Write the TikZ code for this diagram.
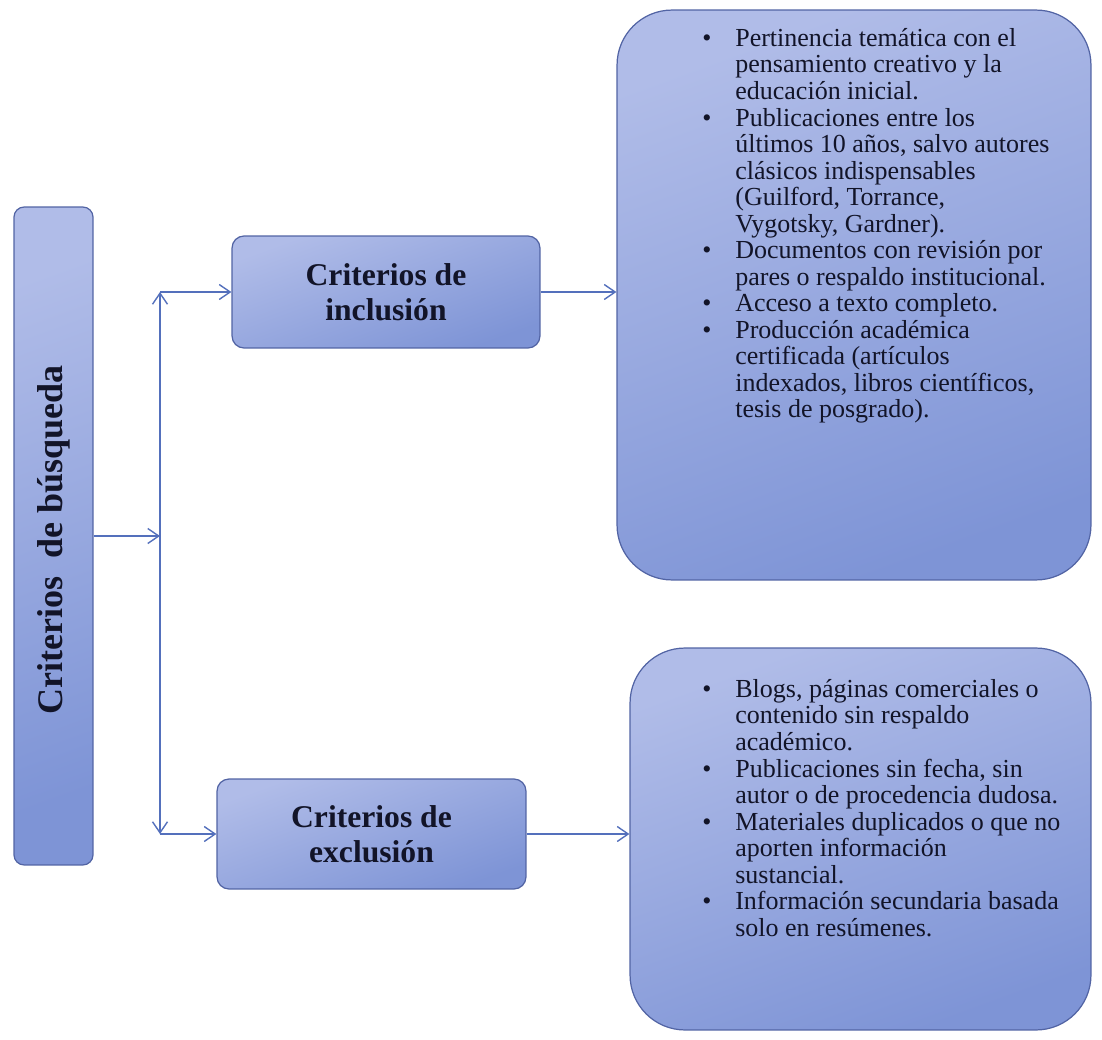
\documentclass[tikz,border=0pt]{standalone}
\usepackage{fontspec}
\setmainfont{Liberation Serif}
\usetikzlibrary{arrows.meta}
\definecolor{boxtop}{RGB}{176,188,232}
\definecolor{boxbot}{RGB}{126,148,214}
\definecolor{boxline}{RGB}{82,100,164}
\definecolor{arrowblue}{RGB}{84,112,188}
\definecolor{inkblue}{RGB}{18,20,40}
\newcommand{\itm}[1]{\makebox[0.66cm][l]{\textbullet}#1}
\newcommand{\cnt}[1]{\hspace*{0.66cm}#1}
\begin{document}
\begin{tikzpicture}[x=0.02cm, y=-0.02cm,
  box/.style={draw=boxline, line width=0.7pt, top color=boxtop, bottom color=boxbot,
    shading angle=20, text=inkblue},
  head/.style={font=\bfseries\fontsize{18}{20}\selectfont, align=center},
  listtext/.style={anchor=north west, inner sep=0pt, align=left, text=inkblue,
    font=\fontsize{14.8}{15.1}\selectfont},
  arr/.style={draw=arrowblue, line width=0.8pt, -{Straight Barb[length=0.22cm, width=0.3cm]}}]
  \useasboundingbox (0,0) rectangle (1102,1040);
  \node[box, rounded corners=0.2cm, minimum width=1.58cm, minimum height=13.16cm] (busq) at (53.5,536) {};
  \node[rotate=90, text=inkblue, font=\bfseries\fontsize{20.5}{22}\selectfont] (busqlabel) at (54,540) {Criterios\ \ de búsqueda};
  \node[box, head, rounded corners=0.24cm, minimum width=6.16cm, minimum height=2.24cm] (incl) at (386,292) {Criterios de\\inclusión};
  \node[box, head, rounded corners=0.24cm, minimum width=6.18cm, minimum height=2.2cm] (excl) at (371.5,834) {Criterios de\\exclusión};
  \node[box, rounded corners=1.1cm, minimum width=9.48cm, minimum height=11.4cm] (inclist) at (854,295) {};
  \node[box, rounded corners=1.1cm, minimum width=9.22cm, minimum height=7.64cm] (exclist) at (860.5,839) {};
  \node[listtext] (incitems) at (702,28) {%
    \itm{Pertinencia temática con el}\\
    \cnt{pensamiento creativo y la}\\
    \cnt{educación inicial.}\\
    \itm{Publicaciones entre los}\\
    \cnt{últimos 10 años, salvo autores}\\
    \cnt{clásicos indispensables}\\
    \cnt{(Guilford, Torrance,}\\
    \cnt{Vygotsky, Gardner).}\\
    \itm{Documentos con revisión por}\\
    \cnt{pares o respaldo institucional.}\\
    \itm{Acceso a texto completo.}\\
    \itm{Producción académica}\\
    \cnt{certificada (artículos}\\
    \cnt{indexados, libros científicos,}\\
    \cnt{tesis de posgrado).}};
  \node[listtext] (excitems) at (702,679) {%
    \itm{Blogs, páginas comerciales o}\\
    \cnt{contenido sin respaldo}\\
    \cnt{académico.}\\
    \itm{Publicaciones sin fecha, sin}\\
    \cnt{autor o de procedencia dudosa.}\\
    \itm{Materiales duplicados o que no}\\
    \cnt{aporten información}\\
    \cnt{sustancial.}\\
    \itm{Información secundaria basada}\\
    \cnt{solo en resúmenes.}};
  \coordinate (vx) at (160,0);
  \coordinate (top) at (incl.west -| vx);
  \coordinate (bot) at (excl.west -| vx);
  \draw [arr, {Straight Barb[length=0.22cm, width=0.3cm]}-{Straight Barb[length=0.22cm, width=0.3cm]}] (top) -- (bot);
  \draw [arr] (busq.east) -- (busq.east -| vx);
  \draw [arr] (top) -- (incl.west);
  \draw [arr] (bot) -- (excl.west);
  \draw [arr] (incl.east) -- (incl.east -| inclist.west);
  \draw [arr] (excl.east) -- (excl.east -| exclist.west);
\end{tikzpicture}
\end{document}
